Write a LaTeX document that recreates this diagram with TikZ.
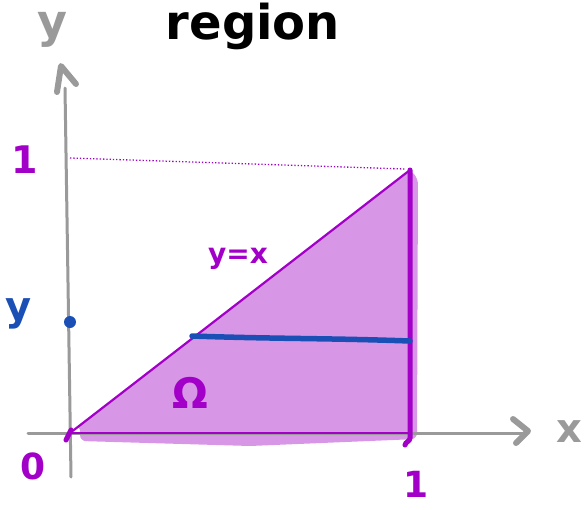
\documentclass[tikz,border=0pt]{standalone}
\usepackage{fontspec}
\setmainfont{DejaVu Sans}
\begin{document}
\begin{tikzpicture}[x=1pt,y=-1pt,
  lbl/.style={inner sep=0pt,font=\bfseries},
  axisline/.style={draw=axgray,line width=3pt,line cap=round},
  chev/.style={draw=axgray,line width=6pt,line cap=round,line join=round},
  edge/.style={draw=pur,line width=2.2pt},
]
\definecolor{axgray}{HTML}{9A9A9A}
\definecolor{pur}{HTML}{A200C8}
\definecolor{fillpur}{HTML}{D896E6}
\definecolor{blu}{HTML}{1A4FB5}
\useasboundingbox (0,0) rectangle (584,509);
% key points
\coordinate (O) at (70,433);
\coordinate (A) at (410,170);
\coordinate (B) at (410,433);
\coordinate (ybot) at (71,477);
\coordinate (ytop) at (65,88);
\coordinate (xl) at (28,433);
\coordinate (xr) at (524,433);
% shaded region (hand-drawn, slightly overshooting)
\fill[fillpur,rounded corners=6pt] (80,425) -- (80,441) -- (250,446) -- (417,439) -- (418,178) -- (A) -- (O) -- cycle;
% axes
\draw[axisline] (ybot) -- (ytop);
\draw[axisline] (xl) -- (xr);
\draw[chev] (57,92) -- (61,66) -- (76,84);
\draw[chev] (513,419) -- (528,431) -- (516,443);
% dotted guide
\coordinate (d1) at (70,158);
\coordinate (d2) at (405,169);
\draw[pur,line width=1.3pt,dotted] (d1) -- (d2);
% triangle edges
\draw[edge] (O) -- (A);
\draw[edge] (O) -- (B);
\draw[pur,line width=5pt,line cap=round] (A) -- (410,438) to[out=-90,in=80] (405,445);
\draw[pur,line width=5pt,line cap=round] (66,440) -- (71,430);
% blue line and dot
\coordinate (b1) at (192,336);
\coordinate (b2) at (410,341);
\draw[blu,line width=5.5pt,line cap=round] (b1) to[out=-2,in=178] (b2);
\fill[blu] (70,322) circle (6pt);
% labels
\node[lbl,font=\bfseries\fontsize{48}{50}\selectfont] (title) at (253,26) {region};
\node[lbl,text=axgray,font=\bfseries\fontsize{46}{48}\selectfont] (ylab) at (52,30) {y};
\node[lbl,text=axgray,font=\bfseries\fontsize{40}{42}\selectfont] (xlab) at (569,432) {x};
\node[lbl,text=pur,font=\bfseries\fontsize{38}{40}\selectfont] (one1) at (25,160) {1};
\node[lbl,text=pur,font=\bfseries\fontsize{36}{38}\selectfont] (one2) at (416,484) {1};
\node[lbl,text=pur,font=\bfseries\fontsize{36}{38}\selectfont] (zero) at (33,466) {0};
\node[lbl,text=blu,font=\bfseries\fontsize{40}{42}\selectfont] (ydot) at (19,314) {y};
\node[lbl,text=pur,font=\bfseries\fontsize{28}{30}\selectfont] (yx) at (238,259) {y=x};
\node[lbl,text=pur,font=\bfseries\fontsize{42}{44}\selectfont] (omega) at (190,393) {Ω};
\end{tikzpicture}
\end{document}
